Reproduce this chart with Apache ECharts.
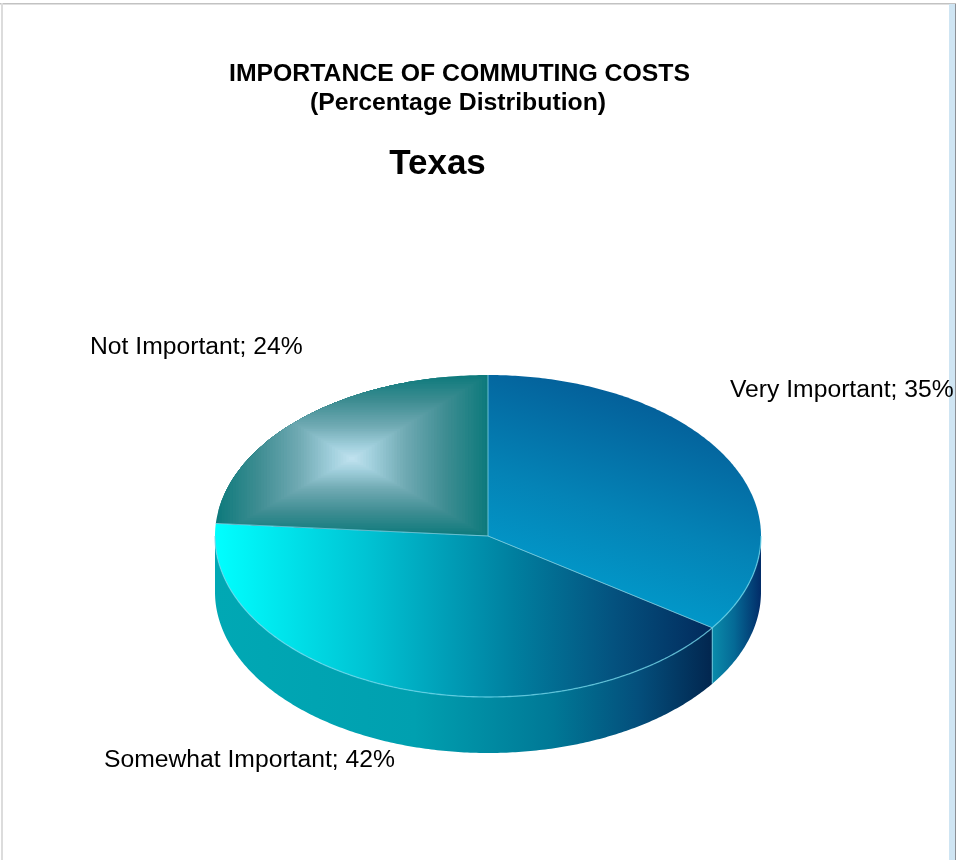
<!DOCTYPE html>
<html><head><meta charset="utf-8">
<style>html,body{margin:0;padding:0;background:#fff}#c{width:956px;height:860px}</style>
<script src="https://cdn.jsdelivr.net/npm/echarts@6/dist/echarts.min.js"></script>
</head><body><div id="c"></div>
<script>
const categories = ['Very Important', 'Somewhat Important', 'Not Important'];
const percentages = [35, 42, 24];
const chartTitle = 'IMPORTANCE OF COMMUTING COSTS';
const chartSubtitle = '(Percentage Distribution)';
const regionName = 'Texas';

const FONT = '"Liberation Sans", Arial, sans-serif';
const CX = 488, CY = 536, RX = 273, RY = 161, DEPTH = 56;
const RIM = 'rgba(110,215,235,0.7)';
const labelAnchors = [[730, 390], [104, 760], [90, 347]];
const total = percentages.reduce((a, b) => a + b, 0);
const hstops = (x0, x1, stops) => new echarts.graphic.LinearGradient(x0, 0, x1, 0,
  stops.map(s => ({offset: s[0], color: s[1]})), true);
const pt = (t, dy) => [CX + RX * Math.sin(t), CY - RY * Math.cos(t) + (dy || 0)];
function arc(a, b, dy) {
  const out = [], n = Math.max(2, Math.ceil(Math.abs(b - a) * 90));
  for (let i = 0; i <= n; i++) out.push(pt(a + (b - a) * i / n, dy));
  return out;
}
function mix(c1, c2, k) {
  return 'rgb(' + c1.map((v, i) => Math.round(v + (c2[i] - v) * k)).join(',') + ')';
}
const pathStops = [[0, [196, 228, 241]], [0.15, [163, 209, 222]], [0.4, [112, 170, 179]], [0.7, [62, 141, 146]], [1, [14, 122, 124]]];
function pathColor(t) {
  for (let i = 1; i < pathStops.length; i++) {
    if (t <= pathStops[i][0]) {
      const a = pathStops[i - 1], b = pathStops[i];
      return mix(a[1], b[1], (t - a[0]) / (b[0] - a[0]));
    }
  }
  return mix(pathStops[4][1], pathStops[4][1], 0);
}
const veryTop = new echarts.graphic.LinearGradient(640, 400, 560, 640, [
  {offset: 0, color: '#04609a'}, {offset: 0.45, color: '#0483b6'}, {offset: 1, color: '#00a6d6'}], true);
const someTop = hstops(216, 712, [[0, '#00ffff'], [0.3, '#00c4d4'], [0.6, '#007f9f'], [0.8, '#04527f'], [1, '#022a5c']]);
const someSide = hstops(216, 712, [[0, '#00a8b4'], [0.4, '#00a0b0'], [0.68, '#007896'], [0.85, '#044f7c'], [1, '#02264f']]);
const verySide = hstops(712, 761, [[0, '#0a8cab'], [0.45, '#056a96'], [1, '#022c68']]);
const sideFill = [verySide, someSide, null];
const topFill = [veryTop, someTop, null];

function renderSlice(params, api) {
  const idx = params.dataIndex;
  let start = 0;
  for (let i = 0; i < idx; i++) start += percentages[i];
  const a = start / total * 2 * Math.PI;
  const b = (start + api.value(0)) / total * 2 * Math.PI;
  const children = [];
  const sa = Math.max(a, Math.PI / 2), sb = Math.min(b, 3 * Math.PI / 2);
  if (sa < sb && sideFill[idx]) {
    const bottom = arc(sa, sb, DEPTH);
    const top = arc(sb, sa, 0);
    children.push({type: 'polygon', shape: {points: bottom.concat(top)},
      style: {fill: sideFill[idx]}, z2: 1});
    children.push({type: 'polyline', shape: {points: arc(sa, sb, 0)},
      style: {stroke: RIM, lineWidth: 1.3, fill: null}, z2: 6});
    if (idx === 0) {
      const e = pt(b);
      children.push({type: 'line', shape: {x1: e[0], y1: e[1], x2: e[0], y2: e[1] + DEPTH},
        style: {stroke: RIM, lineWidth: 1.2}, z2: 6});
    }
  }
  const poly = [[CX, CY]].concat(arc(a, b, 0));
  if (topFill[idx]) {
    children.push({type: 'polygon', shape: {points: poly}, style: {fill: topFill[idx]}, z2: 2});
  } else {
    const xs = poly.map(p => p[0]), ys = poly.map(p => p[1]);
    const x0 = Math.min.apply(null, xs), x1 = Math.max.apply(null, xs);
    const y0 = Math.min.apply(null, ys), y1 = Math.max.apply(null, ys);
    const mx = (x0 + x1) / 2, my = y0 + (y1 - y0) * 0.52;
    const N = 48;
    // Rectangular "path" gradient: nested copies of the slice, each clamped to a shrinking box.
    for (let i = N; i >= 1; i--) {
      const t = i / N;
      const L = mx - (mx - x0) * t, R = mx + (x1 - mx) * t, T = my - (my - y0) * t, B = my + (y1 - my) * t;
      const pts = [];
      const dense = [[CX, CY]];
      for (let k = 1; k < 12; k++) dense.push([CX + (poly[1][0] - CX) * k / 12, CY + (poly[1][1] - CY) * k / 12]);
      dense.push.apply(dense, poly.slice(1));
      for (let k = 1; k < 12; k++) dense.push([poly[poly.length - 1][0] + (CX - poly[poly.length - 1][0]) * k / 12,
        poly[poly.length - 1][1] + (CY - poly[poly.length - 1][1]) * k / 12]);
      dense.forEach(p => pts.push([Math.min(R, Math.max(L, p[0])), Math.min(B, Math.max(T, p[1]))]));
      children.push({type: 'polygon', shape: {points: pts}, style: {fill: pathColor(t)}, z2: 2});
    }
  }
  children.push({type: 'polyline', shape: {points: [pt(a), [CX, CY], pt(b)]},
    style: {stroke: 'rgba(120,205,225,0.5)', lineWidth: 1, fill: null}, z2: 5});
  const anchor = labelAnchors[idx];
  children.push({type: 'text', x: anchor[0], y: anchor[1], z2: 10, style: {
    text: categories[idx] + '; ' + api.value(0) + '%', font: '24.7px ' + FONT,
    fill: '#000', textAlign: 'left', textVerticalAlign: 'middle'}});
  return {type: 'group', children};
}

const frame = (x, y, w, h, fill) => ({type: 'rect', shape: {x, y, width: w, height: h}, style: {fill}, silent: true});
const chart = echarts.init(document.getElementById('c'), null, {renderer: 'canvas'});
chart.setOption({
  animation: false,
  backgroundColor: '#fff',
  graphic: [
    frame(0, 3, 956, 1.5, '#c2c2c2'),
    frame(1, 3, 2, 857, '#dcdcdc'),
    frame(949, 4, 6, 856, '#cfe5f3'),
    frame(955, 4, 1, 856, '#8b9096')
  ],
  title: [
    {text: chartTitle, left: 454.5, top: 57, textAlign: 'center',
      textStyle: {fontFamily: FONT, fontSize: 24.8, fontWeight: 'bold', color: '#000'}},
    {text: chartSubtitle, left: 453, top: 86, textAlign: 'center',
      textStyle: {fontFamily: FONT, fontSize: 24.8, fontWeight: 'bold', color: '#000'}},
    {text: regionName, left: 432.5, top: 142, textAlign: 'center',
      textStyle: {fontFamily: FONT, fontSize: 35, fontWeight: 'bold', color: '#000'}}
  ],
  series: [{
    type: 'custom',
    coordinateSystem: 'none',
    renderItem: renderSlice,
    data: percentages.map((v, i) => ({name: categories[i], value: [v]}))
  }]
});
</script></body></html>
